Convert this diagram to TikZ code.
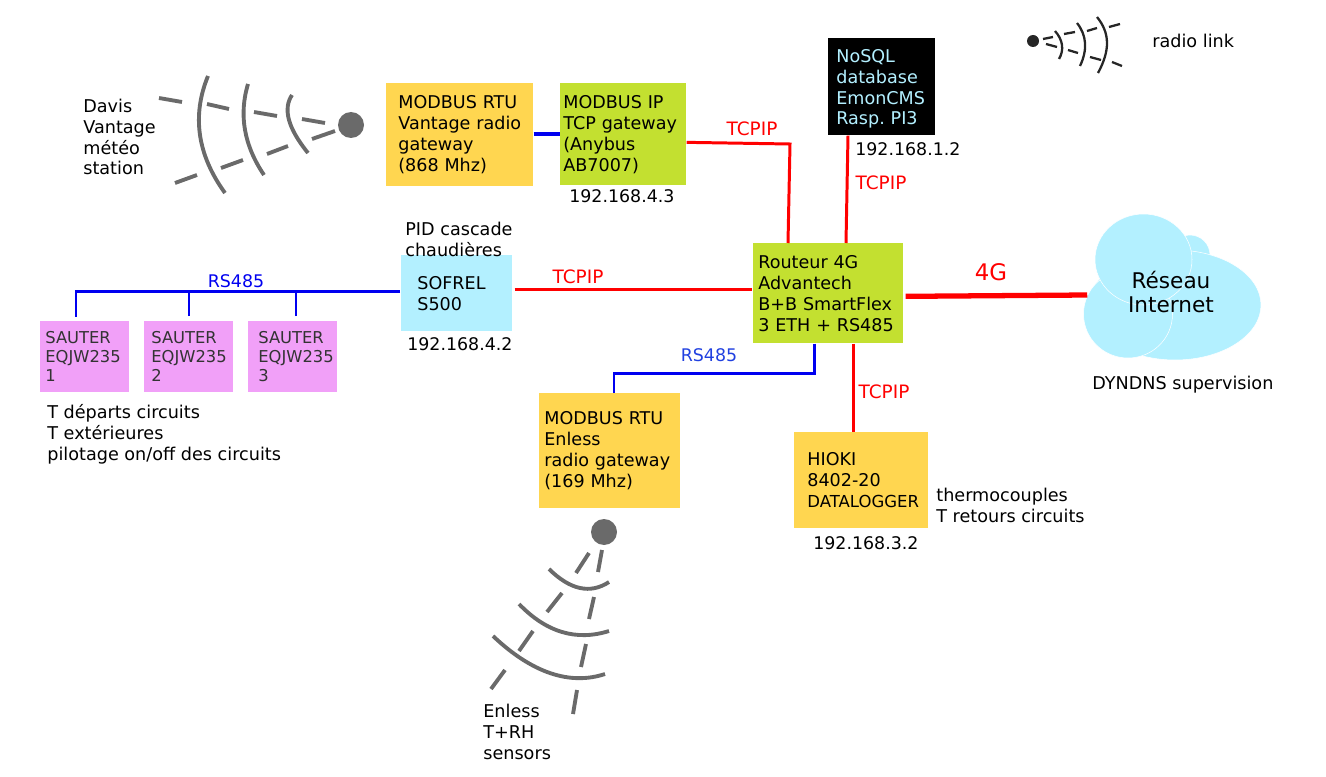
\documentclass[tikz,border=0pt]{standalone}
\usepackage{fontspec}
\setmainfont{DejaVu Sans}
\usetikzlibrary{shapes.geometric, calc}
\definecolor{gwyellow}{RGB}{255, 214, 80}
\definecolor{gwgreen}{RGB}{195, 224, 48}
\definecolor{skycyan}{RGB}{179, 240, 255}
\definecolor{sauterpink}{RGB}{241, 160, 248}
\definecolor{iconcolor}{RGB}{106, 106, 106}
\definecolor{tcpred}{RGB}{255, 0, 0}
\definecolor{busblue}{RGB}{0, 0, 240}
\definecolor{buslabel}{RGB}{32, 64, 224}
\newcommand{\liftup}[1]{\par\vspace*{#1}}
\tikzset{
  netfont/.style={font=\fontsize{10}{11.9}\selectfont},
  netbox/.style n args={3}{anchor=north west, netfont, align=left, inner ysep=0pt,
    minimum height=#2*0.02cm, text width=(#1-2*#3)*0.02cm, inner xsep=#3*0.02cm},
  sauterbox/.style={fill=sauterpink, text=black!80, font=\fontsize{9.3}{10.8}\selectfont},
  labeltext/.style={anchor=west, font=\fontsize{10.03}{11.9}\selectfont, align=left, inner sep=0pt},
  addrtext/.style={anchor=west, font=\fontsize{9.9}{11.9}\selectfont, inner sep=0pt},
  tcptext/.style={font=\fontsize{10.5}{11.9}\selectfont, text=tcpred, inner sep=0pt},
  bustext/.style={font=\fontsize{9.9}{11.9}\selectfont, inner sep=0pt},
  tcpline/.style={draw=tcpred, line width=1.7pt},
  busline/.style={draw=busblue, line width=1.7pt},
  cloudpart/.style={ellipse, fill=skycyan, draw=white, line width=0.3pt, inner sep=0pt},
  radiogray/.style={draw=iconcolor, line width=2.2pt},
  radioblack/.style={draw=black!85, line width=1.3pt}
}
\begin{document}
\begin{tikzpicture}[x=0.02cm, y=-0.02cm]
  \useasboundingbox (0,0) rectangle (1326,777);

  % Boxes
  \node[netbox={147}{103}{12}, fill=gwyellow] (vantage) at (386,83) {MODBUS RTU\\\mbox{Vantage radio}\\gateway\\(868 Mhz)\liftup{4pt}};
  \node[netbox={126}{102}{3}, fill=gwgreen] (anybus) at (560,83) {MODBUS IP\\TCP gateway\\(Anybus\\AB7007)};
  \node[netbox={107}{97}{8}, fill=black, text=skycyan] (nosql) at (828,38) {NoSQL\\database\\EmonCMS\\Rasp.\ PI3\liftup{-2.3pt}};
  \node[netbox={111}{76}{16}, fill=skycyan] (sofrel) at (401,255) {SOFREL\\S500};
  \node[netbox={150}{100}{5}, fill=gwgreen] (router) at (753,243) {Routeur 4G\\Advantech\\B+B SmartFlex\\3 ETH + RS485};
  \node[netbox={141}{115}{5}, fill=gwyellow] (enless) at (539,393) {MODBUS RTU\\Enless\\radio gateway\\(169 Mhz)\liftup{6.8pt}};
  \node[netbox={134}{96}{13}, fill=gwyellow] (hioki) at (794,432) {HIOKI\\8402-20\\{\fontsize{9.4}{11.9}\selectfont DATALOGGER}\liftup{3.4pt}};
  \node[netbox={89}{71}{5}, sauterbox] (sauterA) at (40,321) {SAUTER\\EQJW235\\1};
  \node[netbox={89}{71}{7}, sauterbox] (sauterB) at (144,321) {SAUTER\\EQJW235\\2};
  \node[netbox={89}{71}{10}, sauterbox] (sauterC) at (248,321) {SAUTER\\EQJW235\\3};

  % Cloud
  \node[cloudpart, minimum width=40*0.02cm, minimum height=40*0.02cm] (cloudtop) at (1190,255) {};
  \node[cloudpart, minimum width=172*0.02cm, minimum height=110*0.02cm] (cloudmain) at (1175,305) {};
  \node[cloudpart, minimum width=89*0.02cm, minimum height=88*0.02cm] (cloudlow) at (1128,314) {};
  \node[cloudpart, minimum width=97*0.02cm, minimum height=91*0.02cm] (cloudhigh) at (1143.5,259.5) {};
  \node[font=\fontsize{12.3}{14.2}\selectfont, align=center, inner sep=0pt] (internet) at (1171,292) {Réseau\\Internet};

  % Links
  \draw[busblue, line width=2pt] (vantage.east |- 0,134) -- (anybus.west |- 0,134);
  \draw[tcpline] ($(anybus.east)+(0,8)$) -- (790,144) -- ($(router.north west)+(35,0)$);
  \draw[tcpline] ($(nosql.south west)+(20,0)$) -- ($(router.north west)+(93,0)$);
  \draw[tcpline] ($(sofrel.east)+(2,-4)$) -- ($(router.west)+(-1,-4)$);
  \draw[tcpline, line width=3pt] ($(router.east)+(2,3)$) -- ($(cloudlow.west)+(4,-19)$);
  \draw[tcpline] ($(router.south west)+(100,0)$) -- ($(hioki.north west)+(59,0)$);
  \draw[busline] ($(router.south west)+(61,0)$) -- ++(0,30) -| ($(enless.north west)+(75,0)$);
  \draw[busline] ($(sofrel.west)+(-1,-2)$) -| ($(sauterA.north west)+(36,-4)$);
  \draw[busline] ($(sauterB.north west)+(45,-5)$) -- ($(sauterB.north west)+(45,-30)$);
  \draw[busline] ($(sauterC.north west)+(48,-5)$) -- ($(sauterC.north west)+(48,-30)$);

  % Link labels
  \node[tcptext] (lblA) at (752,129) {TCPIP};
  \node[tcptext] (lblB) at (881,183) {TCPIP};
  \node[tcptext] (lblC) at (578,277) {TCPIP};
  \node[tcptext] (lblD) at (884,392) {TCPIP};
  \node[font=\fontsize{13}{14.2}\selectfont, text=tcpred, inner sep=0pt] (lblE) at (991,272) {4G};
  \node[bustext, text=busblue] (lblF) at (236,281) {RS485};
  \node[bustext, text=buslabel] (lblG) at (709,355) {RS485};

  % Other texts
  \node[labeltext] (davis) at (83,137) {Davis\\Vantage\\météo\\station};
  \node[labeltext] (pid) at (405,239.5) {PID cascade\\chaudières};
  \node[labeltext] (circuits) at (47,434) {T départs circuits\\T extérieures\\pilotage on/off des circuits};
  \node[labeltext] (thermo) at (936,505.5) {thermocouples\\T retours circuits};
  \node[labeltext] (sensors) at (483,732) {Enless\\T+RH\\sensors};
  \node[labeltext] (dyndns) at (1092,385) {DYNDNS supervision};
  \node[labeltext] (legend) at (1152,41) {radio link};
  \node[addrtext] (addrA) at (569,196) {192.168.4.3};
  \node[addrtext] (addrB) at (855,149) {192.168.1.2};
  \node[addrtext] (addrC) at (407,344) {192.168.4.2};
  \node[addrtext] (addrD) at (813,543) {192.168.3.2};

  % Davis radio icon
  \fill[iconcolor] (351,125) circle (13);
  \foreach \xa/\ya/\xb/\yb in {325/123/302/119, 277/116/254/112, 229/109/207/104, 182/102/159/98,
    335/131/312/139, 288/146/267/154, 243/160/221/168, 197/175/175/183}
    \draw[radiogray] (\xa,\ya) -- (\xb,\yb);
  \draw[radiogray] (292,95) .. controls (282.7,109) and (288,128.3) .. (308,153);
  \draw[radiogray] (248,84) .. controls (238.7,115) and (244,145.3) .. (264,175);
  \draw[radiogray] (208,76) .. controls (191.7,115.7) and (197.3,154.7) .. (225,193);

  % Legend radio icon
  \fill[black!85] (1033,41) circle (6);
  \foreach \xa/\ya/\xb/\yb in {1043/39/1053/37, 1064/34/1075/32, 1087/31/1097/28, 1109/27/1120/24,
    1046/44/1057/47, 1068/50/1078/53, 1090/57/1101/60, 1112/62/1122/66}
    \draw[radioblack] (\xa,\ya) -- (\xb,\yb);
  \draw[radioblack] (1055,31) .. controls (1063,40) and (1064.3,50) .. (1059,59);
  \draw[radioblack] (1077,23) .. controls (1086.7,35.3) and (1087.7,49.7) .. (1080,66);
  \draw[radioblack] (1097,17) .. controls (1110,33) and (1110.3,50.3) .. (1098,73);

  % Enless radio icon
  \fill[iconcolor] (604,532) circle (13);
  \foreach \xa/\ya/\xb/\yb in {602/550/598/572, 594/597/589/619, 586/644/581/667, 577/690/573/714,
    589/553/576/573, 562/593/547/612, 533/631/519/651, 505/670/491/689}
    \draw[radiogray] (\xa,\ya) -- (\xb,\yb);
  \draw[radiogray] (549,569) .. controls (570.3,590) and (590.3,594.3) .. (609,582);
  \draw[radiogray] (519,604) .. controls (546.3,632.3) and (576.3,641.3) .. (609,631);
  \draw[radiogray] (493,636) .. controls (531.7,672.7) and (569.7,685.7) .. (605,674);
\end{tikzpicture}
\end{document}
